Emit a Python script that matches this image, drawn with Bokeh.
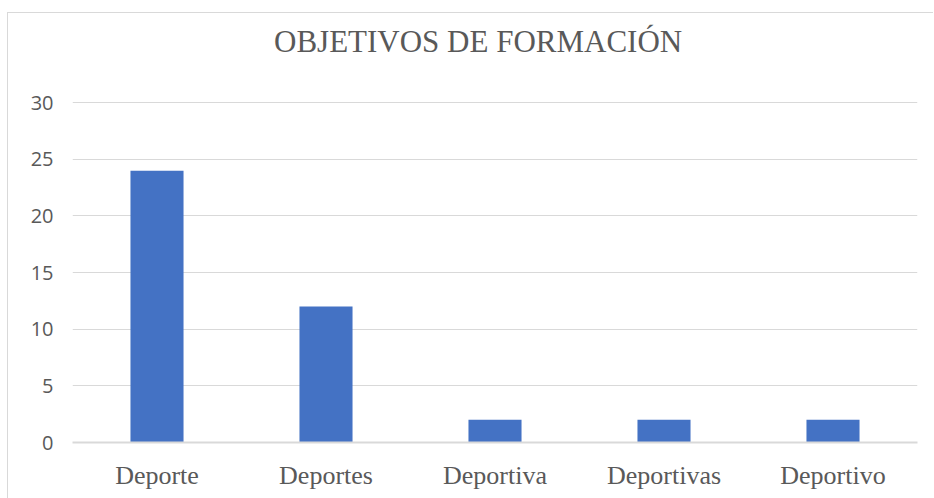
from bokeh.plotting import figure
from bokeh.models import Label, FactorRange, FixedTicker
from bokeh.embed import file_html
from bokeh.resources import INLINE

categories = ["Deporte", "Deportes", "Deportiva", "Deportivas", "Deportivo"]
values = [24, 12, 2, 2, 2]
y_ticks = [0, 5, 10, 15, 20, 25, 30]
title_text = "OBJETIVOS DE FORMACIÓN"

p = figure(
    x_range=FactorRange(*categories, range_padding=0),
    y_range=(0, 36.9),
    width=926, height=486,
    output_backend="svg", toolbar_location=None,
    min_border_left=64, min_border_right=17,
    min_border_top=11, min_border_bottom=57,
)
p.styles = {"margin-top": "12px", "margin-left": "7px",
            "border-top": "1px solid #d9d9d9", "border-left": "1px solid #d9d9d9"}

p.vbar(x=categories, top=values, width=0.314, fill_color="#4472C4", line_color=None)

# chart title, placed inside the (extended) frame above the 30 gridline
p.add_layout(Label(text=title_text, x=2.4, y=35.4,
                   text_align="center", text_baseline="alphabetic",
                   text_font="Liberation Serif", text_font_size="31px",
                   text_color="#595959"))

p.outline_line_color = None
p.background_fill_color = "white"
p.border_fill_color = "white"

p.xgrid.grid_line_color = None
p.ygrid.grid_line_color = "#d9d9d9"
p.ygrid.grid_line_width = 1
p.yaxis.ticker = FixedTicker(ticks=y_ticks)

p.yaxis.axis_line_color = None
p.yaxis.major_tick_line_color = None
p.yaxis.minor_tick_line_color = None
p.yaxis.major_tick_out = 0
p.yaxis.major_tick_in = 0
p.yaxis.major_label_standoff = 19
p.yaxis.major_label_text_font = "Open Sans"
p.yaxis.major_label_text_font_size = "20px"
p.yaxis.major_label_text_color = "#595959"

p.xaxis.axis_line_color = "#d9d9d9"
p.xaxis.axis_line_width = 2
p.xaxis.major_tick_line_color = None
p.xaxis.major_tick_out = 0
p.xaxis.major_tick_in = 0
p.xaxis.major_label_standoff = 18
p.xaxis.major_label_text_font = "Liberation Serif"
p.xaxis.major_label_text_font_size = "26px"
p.xaxis.major_label_text_color = "#595959"

open("out.html", "w").write(file_html(p, INLINE))
